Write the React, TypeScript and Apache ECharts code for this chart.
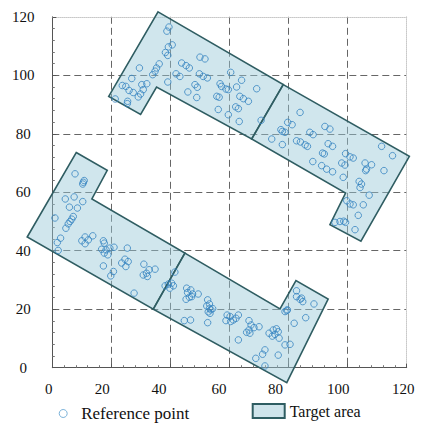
import React, { useEffect, useRef } from "react";
import * as echarts from "echarts";

// Axis ticks (data units)
const xTicks = [0, 20, 40, 60, 80, 100, 120];
const yTicks = [0, 20, 40, 60, 80, 100, 120];

// Target areas: polygon vertices [x, y] in data units
const targetLowerLeft = [[8.1, 73.6], [18.6, 67.5], [13.4, 57.7], [44.9, 39.2], [34.2, 20.0], [-8.5, 44.7]];
const targetLowerRight = [[44.9, 39.2], [77.1, 20.1], [82.5, 29.8], [93.4, 23.5], [79.4, -5.1], [34.2, 20.0]];
const targetUpperLeft = [[35.8, 121.7], [78.2, 96.8], [67.5, 78.2], [35.3, 96.0], [29.9, 86.6], [19.1, 92.8]];
const targetUpperRight = [[78.2, 96.8], [120.9, 72.3], [104.5, 43.3], [94.0, 48.9], [99.3, 59.7], [67.5, 78.2]];

// Reference points [x, y]
const pointsUpperArm = [
  [39.5, 116.5], [38.8, 115.1], [40.6, 110.4], [39.3, 109.7], [38.3, 107.8], [39.1, 106.8],
  [36.2, 103.9], [35.3, 102.5], [34.8, 101.4], [34.0, 100.2], [29.5, 102.5], [26.9, 98.9],
  [23.7, 96.5], [24.9, 96.2], [26.0, 94.8], [27.4, 94.1], [30.3, 96.8], [32.0, 97.1],
  [30.8, 95.1], [29.9, 93.6], [29.1, 92.6], [25.5, 91.1], [25.4, 90.3], [21.3, 91.9],
  [39.1, 97.7], [41.9, 100.5], [43.2, 99.6], [43.8, 104.2], [45.3, 103.3], [46.4, 102.5],
  [50.0, 106.2], [51.7, 105.6], [49.8, 100.5], [51.1, 99.6], [52.5, 99.1], [48.3, 96.8],
  [49.1, 95.9], [45.9, 94.3], [48.9, 92.4],
];
const pointsUpperMiddle = [
  [56.8, 97.1], [57.3, 96.2], [58.8, 95.3], [59.6, 95.1], [60.4, 101.0], [64.1, 98.3],
  [62.4, 96.0], [69.2, 95.4], [55.7, 92.8], [56.5, 92.5], [63.5, 92.8], [64.7, 92.0],
  [66.4, 91.1], [56.2, 88.3], [62.1, 89.2], [63.0, 88.6], [59.6, 86.5], [63.3, 84.2],
  [70.7, 84.6],
];
const pointsUpperRight = [
  [79.7, 83.9], [81.2, 83.1], [77.4, 81.4], [77.9, 80.8], [78.8, 80.5], [74.3, 78.2],
  [77.9, 76.3], [83.9, 87.3], [82.7, 77.6], [84.0, 77.2], [85.6, 76.2], [86.4, 75.7],
  [92.3, 82.5], [94.0, 81.6], [87.2, 80.5], [88.3, 79.7], [93.4, 76.6], [94.9, 75.7],
  [91.5, 73.4], [92.1, 73.1], [88.2, 70.5], [91.2, 69.1], [92.9, 67.9], [94.9, 67.0],
  [98.0, 70.0], [99.1, 69.3], [98.5, 65.1], [99.3, 73.2], [100.8, 72.1], [101.9, 71.7],
  [105.9, 70.0], [108.1, 69.4], [106.4, 67.9], [106.1, 67.4], [111.5, 75.7], [115.2, 72.5],
  [112.3, 67.4], [103.9, 63.7], [104.7, 62.8], [104.2, 61.6], [107.3, 59.0], [99.7, 57.1],
  [100.8, 56.0], [101.9, 55.7], [105.3, 55.7], [103.6, 52.1], [95.7, 49.7], [97.4, 50.0],
  [98.7, 50.1], [99.3, 49.7], [102.5, 47.2],
];
const pointsLowerLeft = [
  [7.7, 66.3], [10.5, 63.4], [10.8, 64.0], [10.3, 62.8], [4.4, 57.7], [7.4, 58.4],
  [10.3, 56.8], [5.8, 54.9], [8.5, 54.6], [0.9, 51.2], [7.1, 51.7], [6.6, 50.8],
  [6.0, 50.0], [5.4, 49.2], [4.6, 47.7], [2.8, 44.3], [1.7, 42.8], [2.0, 40.1],
  [11.1, 44.7], [13.7, 45.1], [10.0, 43.4], [12.2, 43.7], [11.1, 42.4], [17.3, 43.4],
  [17.6, 42.6], [16.7, 40.5], [18.2, 40.3], [19.5, 40.9], [20.9, 41.2], [17.6, 39.2],
  [18.8, 38.6], [17.3, 34.8], [20.7, 32.9], [19.8, 31.4], [25.4, 40.9], [24.6, 37.1],
  [25.7, 36.3], [23.5, 35.8], [24.9, 34.6], [31.0, 35.4], [32.8, 33.5], [34.8, 33.7],
  [30.8, 31.7], [32.2, 31.2], [31.9, 32.3], [27.7, 25.5],
];
const pointsLowerMiddle = [
  [38.2, 28.0], [39.3, 28.6], [40.4, 28.9], [39.8, 27.2], [41.0, 28.0], [41.5, 32.7],
  [45.5, 27.2], [46.9, 26.6], [45.8, 25.7], [47.5, 25.2], [46.4, 24.1], [45.3, 23.4],
  [49.4, 25.2], [47.2, 24.3], [52.6, 23.2], [53.2, 21.8], [52.3, 21.1], [53.2, 20.3],
  [53.7, 19.8], [52.8, 19.1], [54.3, 20.2], [53.4, 18.6], [44.7, 16.1], [46.8, 16.3],
  [52.6, 15.4], [59.2, 18.0], [60.2, 17.5], [61.3, 16.3], [58.8, 16.1], [60.4, 15.8],
  [63.0, 18.0], [62.2, 16.9], [63.0, 9.5], [66.6, 16.1], [67.3, 14.6], [65.8, 12.1],
  [66.6, 12.9], [68.3, 13.7], [70.0, 14.0], [66.9, 11.8],
];
const pointsLowerRight = [
  [73.4, 11.8], [74.8, 12.9], [75.9, 13.3], [76.5, 12.3], [75.4, 11.4], [74.5, 10.8],
  [76.8, 10.1], [72.0, 6.1], [71.2, 4.6], [68.9, 3.2], [76.5, 4.3], [72.0, 0.6],
  [78.8, 7.8], [80.5, 8.0], [81.9, 15.2], [85.8, 17.1], [78.8, 19.2], [79.4, 19.5],
  [79.6, 19.8], [82.7, 26.3], [82.7, 24.3], [83.9, 23.4], [84.4, 23.8], [84.8, 22.6],
  [88.6, 21.8],
];

const FONT = "'Liberation Serif', 'Times New Roman', serif";
const AREA_FILL = "rgba(150, 200, 215, 0.45)";
const AREA_EDGE = "#2f5d62";
const POINT_COLOR = "#3583c0";
const GRID_COLOR = "#666";

// small left shifts of the x tick labels as seen in the reference (px of right padding)
const xLabelPad: Record<number, number> = { 0: 7, 20: 18, 40: 23, 60: 21, 80: 26, 100: 19, 120: 7 };

export default function App() {
  const ref = useRef<HTMLDivElement>(null);
  useEffect(() => {
    document.body.style.margin = "0";
    if (!ref.current) return;
    const chart = echarts.init(ref.current, undefined, { renderer: "svg" });
    const targetAreas = [targetLowerLeft, targetLowerRight, targetUpperLeft, targetUpperRight];
    const referencePoints = [
      ...pointsUpperArm, ...pointsUpperMiddle, ...pointsUpperRight,
      ...pointsLowerLeft, ...pointsLowerMiddle, ...pointsLowerRight,
    ];
    const rich: Record<string, any> = {};
    xTicks.forEach((v) => {
      rich["s" + v] = { fontFamily: FONT, fontSize: 15, color: "#111", padding: [0, xLabelPad[v] || 0, 0, 0] };
    });
    const interval = xTicks[1] - xTicks[0];
    chart.setOption({
      animation: false,
      backgroundColor: "#fff",
      grid: { left: 52.3, top: 16.8, right: 15.3, bottom: 56.3 },
      xAxis: [
        {
          type: "value", min: xTicks[0], max: xTicks[xTicks.length - 1], interval,
          position: "bottom",
          axisLine: { show: true, onZero: false, lineStyle: { color: "#555", width: 1 } },
          axisTick: { show: true, inside: true, length: 4, lineStyle: { color: "#555" } },
          minorTick: { show: true, splitNumber: 5, length: 2.5, lineStyle: { color: "#777" } },
          axisLabel: {
            margin: 14,
            formatter: (v: number) => `{s${v}|${v}}`,
            rich,
          },
          splitLine: {
            show: true, showMinLine: false, showMaxLine: false,
            lineStyle: { color: GRID_COLOR, type: [7, 4], width: 1 },
          },
        },
        {
          type: "value", min: xTicks[0], max: xTicks[xTicks.length - 1], interval,
          position: "top",
          axisLine: { show: true, onZero: false, lineStyle: { color: "#c8c8c8", type: "dotted", width: 1 } },
          axisTick: { show: false }, axisLabel: { show: false }, splitLine: { show: false },
        },
      ],
      yAxis: [
        {
          type: "value", min: yTicks[0], max: yTicks[yTicks.length - 1], interval: yTicks[1] - yTicks[0],
          position: "left",
          axisLine: { show: true, onZero: false, lineStyle: { color: "#555", width: 1 } },
          axisTick: { show: true, inside: true, length: 4, lineStyle: { color: "#555" } },
          minorTick: { show: true, splitNumber: 5, length: 2.5, lineStyle: { color: "#777" } },
          axisLabel: { align: "center", margin: 29, fontFamily: FONT, fontSize: 15, color: "#111" },
          splitLine: {
            show: true, showMinLine: false, showMaxLine: false,
            lineStyle: { color: GRID_COLOR, type: [7, 4], width: 1 },
          },
        },
        {
          type: "value", min: yTicks[0], max: yTicks[yTicks.length - 1], interval: yTicks[1] - yTicks[0],
          position: "right",
          axisLine: { show: true, onZero: false, lineStyle: { color: "#c8c8c8", type: "dotted", width: 1 } },
          axisTick: { show: false }, axisLabel: { show: false }, splitLine: { show: false },
        },
      ],
      legend: [
        {
          data: [{
            name: "Reference point", icon: "circle",
            itemStyle: { color: "rgba(255,255,255,0)", borderColor: "#5a9fd0", borderWidth: 1 },
          }],
          left: 58.7, top: 405, padding: 0, itemWidth: 26, itemHeight: 8,
          selectedMode: false,
          textStyle: { fontFamily: FONT, fontSize: 17, color: "#111" },
        },
        {
          data: [{
            name: "Target area", icon: "rect",
            itemStyle: { color: "#cfe4eb", borderColor: AREA_EDGE, borderWidth: 2 },
          }],
          left: 251.7, top: 403, padding: 0, itemWidth: 32, itemHeight: 14,
          selectedMode: false,
          textStyle: { fontFamily: FONT, fontSize: 16, color: "#111" },
        },
      ],
      series: [
        {
          name: "Target area",
          type: "custom",
          clip: false,
          z: 2,
          itemStyle: { color: AREA_FILL, borderColor: AREA_EDGE, borderWidth: 1.6 },
          data: targetAreas.map((p) => p[0]),
          renderItem: (params: any, api: any) => {
            const poly = targetAreas[params.dataIndex];
            return {
              type: "polygon",
              shape: { points: poly.map((p) => api.coord(p)) },
              style: { fill: AREA_FILL, stroke: AREA_EDGE, lineWidth: 1.6 },
            };
          },
        },
        {
          name: "Reference point",
          type: "scatter",
          z: 3,
          symbol: "circle",
          symbolSize: 6.5,
          itemStyle: { color: "rgba(255,255,255,0)", borderColor: POINT_COLOR, borderWidth: 1 },
          data: referencePoints,
        },
      ],
    });
    return () => chart.dispose();
  }, []);
  return <div ref={ref} style={{ width: 422, height: 424 }} />;
}
